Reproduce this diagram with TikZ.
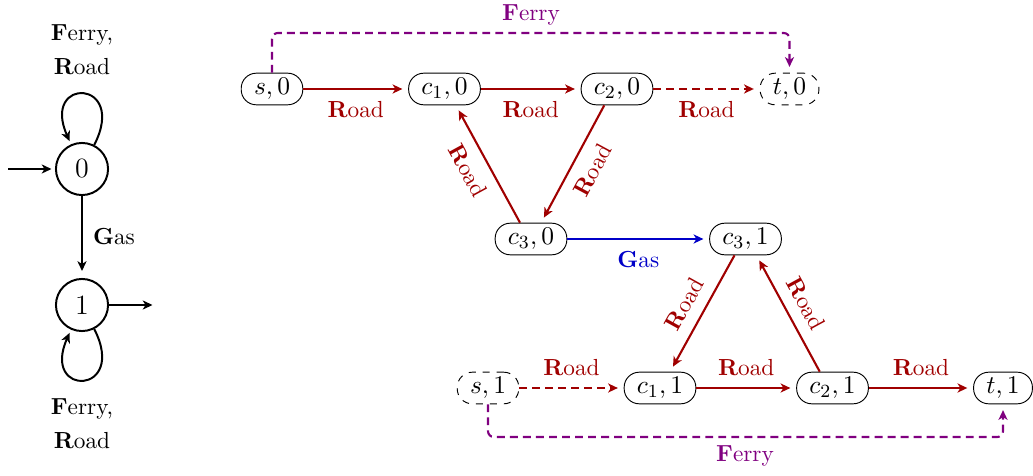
\documentclass[tikz,border=0pt]{standalone}
\usetikzlibrary{arrows.meta,calc}
\definecolor{roadc}{RGB}{160,0,0}
\definecolor{ferryc}{RGB}{128,0,128}
\definecolor{gasc}{RGB}{0,0,200}
\begin{document}
\begin{tikzpicture}[x=0.43pt,y=-0.43pt,
  >={Stealth[length=4.2pt,width=3.9pt,inset=1.2pt]},
  st/.style={draw,thin,rounded corners=6.5pt,minimum height=13.6pt,inner xsep=5.5pt,inner ysep=0pt,font=\fontsize{11}{13}\selectfont},
  dst/.style={st,dashed},
  circ/.style={circle,draw,line width=0.85pt,minimum size=22.4pt,inner sep=0pt,font=\fontsize{12}{14}\selectfont},
  edgeb/.style={->,line width=0.9pt,shorten >=2.5pt},
  road/.style={edgeb,roadc},
  gas/.style={edgeb,gasc},
  dsh/.style={dash pattern=on 3.4pt off 2.2pt},
  ferry/.style={edgeb,ferryc,dsh,rounded corners=2.5pt},
  lbl/.style={inner sep=3.33pt},
  blk/.style={->,line width=0.85pt,shorten >=1.5pt}
]
\useasboundingbox (0,0) rectangle (1033,476);

% left automaton
\node[circ] (q0) at (82,169) {0};
\node[circ] (q1) at (82,305) {1};
\coordinate (ini) at (8,169);
\coordinate (fin) at (156,305);
\draw[blk] (ini) -- (q0);
\draw[blk] (q1) -- (fin);
\draw[blk,shorten >=3pt] (q0) -- node[right,lbl,xshift=1pt]{\textbf{G}as} (q1);
\draw[blk] (q0.63) .. controls +(63:32pt) and +(114:32pt) .. (q0.114);
\draw[blk] (q1.-63) .. controls +(-63:32pt) and +(-114:32pt) .. (q1.-114);
\node[align=center,inner sep=0pt] (l0) at (82,50) {\textbf{F}erry,\\[2.6pt]\textbf{R}oad};
\node[align=center,inner sep=0pt] (l1) at (82,424) {\textbf{F}erry,\\[2.6pt]\textbf{R}oad};

% right graph
\node[st] (s0) at (272,89) {$s,0$};
\node[st] (c10) at (444.5,89) {$c_1,0$};
\node[st] (c20) at (617,89) {$c_2,0$};
\node[dst] (t0) at (789.5,89) {$t,0$};
\node[st] (c30) at (531,239) {$c_3,0$};
\node[st] (c31) at (745.5,239) {$c_3,1$};
\node[dst] (s1) at (488,388) {$s,1$};
\node[st] (c11) at (660,388) {$c_1,1$};
\node[st] (c21) at (832.5,388) {$c_2,1$};
\node[st] (t1) at (1003,388) {$t,1$};

\draw[road] (s0) -- node[below=1.5pt,lbl]{\textbf{R}oad} (c10);
\draw[road] (c10) -- node[below=1.5pt,lbl]{\textbf{R}oad} (c20);
\draw[road,dsh] (c20) -- node[below=1.5pt,lbl]{\textbf{R}oad} (t0);
\draw[road] (c20.232) -- node[sloped,below=1.5pt,lbl,pos=0.47]{\textbf{R}oad} (c30.58);
\draw[road] (c30.124.5) -- node[sloped,below=1.5pt,lbl,pos=0.53]{\textbf{R}oad} (c10.305.4);
\draw[gas] (c30) -- node[below=1.5pt,lbl]{\textbf{G}as} (c31);
\draw[road] (c31.236.7) -- node[sloped,above=1.5pt,lbl]{\textbf{R}oad} (c11.58);
\draw[road] (c21.128) -- node[sloped,above=1.5pt,lbl]{\textbf{R}oad} (c31.304.5);
\draw[road,dsh] (s1) -- node[above=1.5pt,lbl]{\textbf{R}oad} (c11);
\draw[road] (c11) -- node[above=1.5pt,lbl]{\textbf{R}oad} (c21);
\draw[road] (c21) -- node[above=1.5pt,lbl]{\textbf{R}oad} (t1);

\coordinate (ftop) at (531,33);
\coordinate (fbot) at (745,437);
\draw[ferry] (s0.north) |- (ftop) -| (t0.north);
\draw[ferry] (s1.south) |- (fbot) -| (t1.south);
\node[above,lbl,text=ferryc] (fl0) at (ftop) {\textbf{F}erry};
\node[below,lbl,text=ferryc] (fl1) at (fbot) {\textbf{F}erry};
\end{tikzpicture}
\end{document}
